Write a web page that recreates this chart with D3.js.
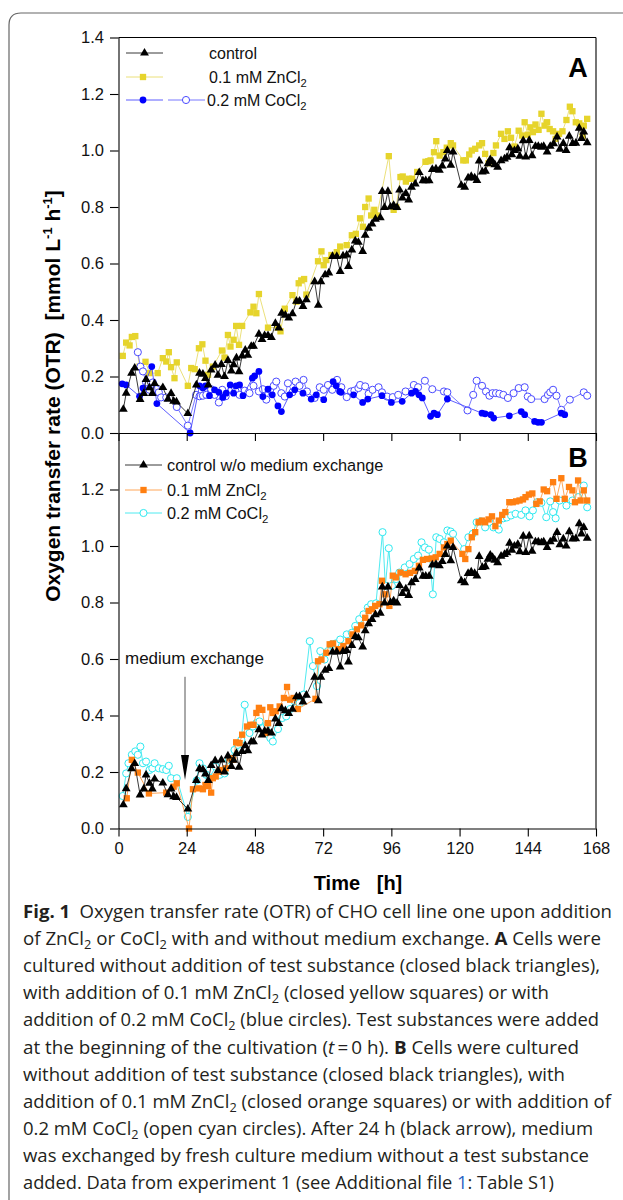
<!DOCTYPE html>
<html><head><meta charset="utf-8">
<script src="https://cdn.jsdelivr.net/npm/d3@7"></script>
<style>body{margin:0;background:#fff}svg{display:block}</style>
</head><body><svg id="c" width="623" height="1200"></svg>
<script>
// ---------- DATA ----------
const xTicks = [0, 24, 48, 72, 96, 120, 144, 168];
const yTicksA = [0, 0.2, 0.4, 0.6, 0.8, 1.0, 1.2, 1.4];
const yTicksB = [0, 0.2, 0.4, 0.6, 0.8, 1.0, 1.2];

// control (same culture shown in A and B)
const ctrlT = [1.7,2.7,4.6,5.7,7.6,8.9,9.7,10.9,11.9,12.7,15.6,17.4,18.5,19.4,20.4,24.4,27.4,28.5,29.7,30.6,31.6,32.6,34.0,35.0,36.2,37.3,38.5,39.7,40.5,41.5,42.4,43.5,44.6,45.5,46.7,47.5,49.4,50.5,51.4,52.6,53.8,55.2,56.4,57.4,58.7,59.9,61.2,62.6,63.7,64.9,66.1,69.0,70.3,71.2,72.7,74.0,75.3,76.8,78.0,79.0,80.3,80.9,82.1,83.3,84.4,85.9,86.8,88.0,89.2,90.4,92.1,92.8,93.6,94.8,95.7,96.8,98.0,98.9,99.9,101.1,102.1,103.1,104.4,105.8,107.1,108.1,109.3,110.4,111.7,112.9,113.9,115.0,115.7,116.9,117.7,120.6,121.8,123.0,124.1,125.3,126.1,126.9,128.0,129.1,130.0,130.8,131.6,132.4,133.4,134.6,135.8,136.7,137.6,138.4,139.3,140.5,141.2,142.4,143.3,144.5,145.5,146.7,147.7,148.8,149.6,150.8,151.9,153.1,154.3,155.3,156.5,157.5,158.6,159.8,160.9,162.1,162.9,163.7,164.9];
const ctrlV = [0.084,0.141,0.212,0.23,0.119,0.14,0.19,0.16,0.14,0.175,0.161,0.12,0.14,0.113,0.11,0.069,0.17,0.212,0.208,0.193,0.17,0.223,0.24,0.205,0.243,0.2,0.257,0.22,0.242,0.266,0.217,0.273,0.293,0.275,0.307,0.307,0.35,0.331,0.345,0.345,0.338,0.388,0.372,0.424,0.417,0.407,0.422,0.467,0.467,0.448,0.472,0.536,0.452,0.536,0.56,0.567,0.625,0.625,0.572,0.627,0.63,0.59,0.648,0.68,0.675,0.643,0.7,0.725,0.74,0.757,0.762,0.855,0.798,0.855,0.8,0.806,0.798,0.86,0.832,0.848,0.825,0.87,0.882,0.922,0.893,0.893,0.893,0.933,0.935,0.93,0.945,0.97,1.0,0.948,0.995,0.877,0.87,0.903,0.908,0.903,0.894,0.963,0.924,0.927,0.953,0.968,0.96,0.95,0.941,0.964,0.97,0.976,1.01,0.985,1.0,1.006,0.98,1.035,0.977,1.036,0.982,1.015,1.015,1.012,1.015,0.995,1.015,1.024,1.048,1.005,1.025,1.0,1.051,1.025,1.026,1.079,1.043,1.066,1.028];

// A: 0.1 mM ZnCl2 (yellow)
const znAT = [1.5,2.7,3.9,4.7,5.9,7.4,9.5,10.9,13.8,15.6,16.8,17.7,18.5,19.7,20.5,24.4,25.6,26.8,28.3,29.5,30.6,31.5,33.2,36.4,37.3,38.5,39.4,40.5,41.4,42.4,43.5,46.4,47.5,48.5,49.4,52.6,56.1,57.0,58.5,61.2,62.6,63.4,64.3,65.3,66.1,70.2,71.4,72.2,73.1,74.9,76.8,78.0,80.3,82.1,83.5,85.0,86.0,86.8,88.0,88.9,90.0,90.9,95.1,96.8,97.7,99.2,100.0,101.1,102.1,103.3,105.1,108.0,109.0,109.8,111.0,111.8,113.0,114.3,115.5,116.9,117.7,121.3,122.2,123.4,124.3,125.5,126.9,127.9,129.0,130.2,131.9,132.8,134.6,135.8,137.0,138.1,139.3,140.8,142.0,142.9,144.0,144.9,145.8,146.7,147.8,148.8,149.9,150.8,151.7,152.9,153.8,155.0,156.2,157.6,158.8,159.7,160.9,162.1,163.3,163.7,164.9];
const znAV = [0.273,0.32,0.31,0.34,0.343,0.235,0.252,0.212,0.212,0.265,0.253,0.286,0.233,0.194,0.25,0.167,0.23,0.226,0.3,0.314,0.256,0.206,0.235,0.292,0.267,0.347,0.306,0.33,0.379,0.312,0.379,0.427,0.447,0.424,0.492,0.373,0.373,0.36,0.44,0.488,0.465,0.53,0.54,0.545,0.49,0.608,0.643,0.594,0.612,0.63,0.64,0.66,0.665,0.7,0.705,0.76,0.73,0.8,0.83,0.77,0.79,0.77,0.98,0.79,0.8,0.906,0.908,0.89,0.9,0.9,0.924,0.96,0.962,0.965,0.994,1.033,0.982,0.994,1.01,1.026,1.018,0.965,0.965,0.986,1.0,1.006,1.018,1.026,0.988,0.955,0.991,1.018,1.059,1.041,1.068,1.045,1.014,1.07,1.053,1.1,1.056,1.082,1.065,1.092,1.073,1.13,1.088,1.1,1.076,1.068,1.041,1.059,1.068,1.108,1.155,1.139,1.1,1.096,1.05,1.088,1.112];

// A: 0.2 mM CoCl2 (closed blue)
const coAT = [1.3,2.7,7.4,8.6,11.7,13.5,25.2,28.5,29.7,30.6,32.0,33.8,35.3,36.7,37.9,39.3,40.5,41.4,42.6,43.8,47.1,47.9,49.4,50.8,52.6,54.1,56.1,57.3,60.2,62.0,64.9,67.8,69.6,72.2,75.5,76.6,77.8,78.3,82.7,85.9,87.7,92.7,96.0,99.8,103.1,104.5,105.7,106.9,109.8,111.0,112.2,115.7,127.9,129.0,131.0,132.0,137.5,141.7,142.9,146.4,147.6,148.8,155.8,157.0];
const coAV = [0.174,0.17,0.13,0.159,0.235,0.104,0.0,0.167,0.159,0.167,0.132,0.153,0.144,0.126,0.141,0.17,0.141,0.167,0.17,0.132,0.194,0.202,0.218,0.129,0.155,0.135,0.096,0.076,0.135,0.153,0.141,0.12,0.135,0.118,0.182,0.167,0.147,0.144,0.135,0.108,0.12,0.132,0.108,0.112,0.141,0.147,0.135,0.124,0.059,0.07,0.065,0.12,0.07,0.068,0.065,0.053,0.061,0.076,0.065,0.041,0.038,0.038,0.07,0.065];

// A: 0.2 mM CoCl2 (open blue)
const coOpenT = [6.8,7.7,8.6,9.7,10.9,12.1,13.3,14.2,15.0,16.8,20.5,24.4,27.3,28.5,29.7,30.9,32.6,33.8,35.3,36.5,37.7,39.7,41.2,42.6,44.4,46.1,47.5,49.4,50.8,52.0,53.4,54.6,55.5,57.3,58.5,59.6,61.2,62.3,63.7,65.1,66.3,69.0,70.8,72.2,73.7,75.2,76.9,78.4,80.3,81.8,83.0,84.4,85.0,86.8,88.0,89.4,91.5,92.7,94.5,96.5,98.4,101.0,103.9,105.4,107.8,110.4,114.5,115.7,122.8,124.8,126.0,127.9,129.3,130.5,131.6,132.8,134.0,135.4,137.0,139.0,140.8,142.9,144.0,145.2,149.9,151.1,151.9,152.9,154.1,155.8,158.8,163.7,164.9];
const coOpenV = [0.286,0.235,0.218,0.179,0.153,0.179,0.155,0.144,0.126,0.126,0.092,0.026,0.135,0.13,0.132,0.135,0.155,0.135,0.108,0.153,0.13,0.153,0.147,0.135,0.15,0.141,0.167,0.147,0.155,0.118,0.153,0.167,0.182,0.141,0.129,0.176,0.144,0.182,0.167,0.188,0.147,0.124,0.162,0.153,0.17,0.153,0.188,0.162,0.127,0.147,0.15,0.159,0.17,0.165,0.139,0.153,0.162,0.144,0.129,0.127,0.135,0.147,0.17,0.162,0.185,0.155,0.147,0.144,0.08,0.135,0.185,0.167,0.147,0.132,0.141,0.141,0.139,0.135,0.124,0.141,0.159,0.162,0.129,0.12,0.12,0.135,0.144,0.153,0.132,0.082,0.118,0.144,0.132];

// B: 0.1 mM ZnCl2 (orange)
const znBT = [2.9,4.7,6.8,10.7,16.8,19.4,20.5,24.8,26.2,28.3,29.7,30.6,31.5,32.6,33.2,34.2,35.3,36.5,37.7,39.1,40.3,41.4,42.6,43.5,45.2,46.4,47.5,48.5,49.4,50.6,51.8,52.6,53.4,54.3,55.3,56.7,58.2,59.3,60.4,61.6,63.1,69.3,70.2,71.4,73.1,74.3,75.5,77.2,79.1,80.9,82.3,83.9,85.4,86.8,88.0,89.2,90.3,91.8,92.7,93.9,95.3,96.5,97.7,99.2,101.0,102.6,104.3,105.7,107.1,108.6,110.2,111.6,113.0,114.5,115.7,116.9,121.0,122.0,123.1,124.3,125.5,126.7,127.9,129.0,130.2,131.4,132.6,133.8,135.0,136.1,137.5,138.7,139.9,141.1,142.3,143.2,144.4,145.6,147.0,148.2,149.6,150.8,152.9,154.1,155.8,157.0,158.5,159.7,160.6,161.7,162.6,163.7,164.9];
const znBV = [0.107,0.243,0.198,0.124,0.127,0.148,0.16,0.0,0.139,0.142,0.139,0.154,0.15,0.127,0.178,0.184,0.201,0.207,0.213,0.249,0.243,0.305,0.302,0.332,0.361,0.367,0.367,0.409,0.427,0.42,0.338,0.373,0.429,0.409,0.415,0.432,0.462,0.501,0.456,0.462,0.423,0.459,0.592,0.598,0.622,0.652,0.655,0.635,0.646,0.663,0.687,0.705,0.719,0.746,0.77,0.776,0.788,0.794,0.877,0.829,0.788,0.895,0.889,0.906,0.9,0.905,0.912,0.93,0.951,0.954,0.956,0.96,0.972,0.995,1.007,1.019,0.972,0.954,0.989,1.031,1.049,1.084,1.09,1.084,1.094,1.105,1.07,1.09,1.11,1.12,1.155,1.155,1.158,1.161,1.165,1.173,1.182,1.186,1.149,1.158,1.2,1.194,1.226,1.167,1.24,1.167,1.209,1.197,1.155,1.232,1.161,1.197,1.161];

// B: 0.2 mM CoCl2 (open cyan)
const coBT = [1.5,2.7,3.5,4.7,5.9,6.8,7.7,8.6,9.7,10.9,11.9,12.7,14.2,15.6,16.8,17.7,18.5,20.5,24.4,27.5,28.5,29.7,30.9,32.0,34.2,35.6,37.3,38.8,40.8,42.0,43.2,44.4,46.1,47.3,48.5,49.6,50.8,52.2,53.4,54.3,56.1,57.6,59.0,60.4,62.0,63.7,65.1,67.3,68.4,69.8,71.0,72.5,73.7,74.9,76.4,78.0,80.3,82.1,83.3,84.7,86.2,87.7,88.9,90.6,92.9,93.9,95.1,96.2,97.7,98.8,100.7,102.4,103.9,105.4,106.6,107.8,109.2,110.6,111.8,113.0,114.5,115.7,116.9,117.7,121.6,123.1,124.6,126.0,127.5,129.0,130.5,131.9,133.8,135.4,136.6,138.1,139.7,141.7,143.2,144.6,145.8,147.2,148.8,150.5,151.9,152.9,153.8,155.2,157.6,159.7,161.7,163.7,164.9];
const coBV = [0.115,0.195,0.231,0.261,0.273,0.261,0.29,0.231,0.237,0.207,0.213,0.231,0.213,0.21,0.207,0.222,0.178,0.178,0.041,0.17,0.231,0.213,0.19,0.18,0.219,0.19,0.195,0.243,0.278,0.296,0.314,0.438,0.338,0.361,0.373,0.379,0.355,0.367,0.32,0.308,0.352,0.391,0.397,0.423,0.45,0.444,0.474,0.663,0.575,0.504,0.628,0.598,0.628,0.652,0.655,0.669,0.687,0.693,0.717,0.741,0.758,0.782,0.794,0.797,1.049,0.859,0.992,0.859,0.883,0.906,0.924,0.936,0.954,0.966,1.013,0.995,0.987,0.829,1.031,1.025,1.013,1.055,1.051,1.043,0.989,1.031,1.043,1.084,1.087,1.066,1.084,1.066,1.058,1.098,1.101,1.108,1.114,1.11,1.126,1.105,1.126,1.155,1.153,1.102,1.158,1.12,1.098,1.161,1.143,1.161,1.173,1.214,1.137];

const legendA = ["control", "0.1 mM ZnCl", "0.2 mM CoCl"];
const legendB = ["control w/o medium exchange", "0.1 mM ZnCl", "0.2 mM CoCl"];

const caption = [
  [["b","Fig. 1"],["n","\u2002Oxygen transfer rate (OTR) of CHO cell line one upon addition"]],
  [["n","of ZnCl"],["s","2"],["n"," or CoCl"],["s","2"],["n"," with and without medium exchange. "],["b","A"],["n"," Cells were"]],
  [["n","cultured without addition of test substance (closed black triangles),"]],
  [["n","with addition of 0.1 mM ZnCl"],["s","2"],["n"," (closed yellow squares) or with"]],
  [["n","addition of 0.2 mM CoCl"],["s","2"],["n"," (blue circles). Test substances were added"]],
  [["n","at the beginning of the cultivation ("],["i","t"],["n","\u2009=\u20090 h). "],["b","B"],["n"," Cells were cultured"]],
  [["n","without addition of test substance (closed black triangles), with"]],
  [["n","addition of 0.1 mM ZnCl"],["s","2"],["n"," (closed orange squares) or with addition of"]],
  [["n","0.2 mM CoCl"],["s","2"],["n"," (open cyan circles). After 24 h (black arrow), medium"]],
  [["n","was exchanged by fresh culture medium without a test substance"]],
  [["n","added. Data from experiment 1 (see Additional file "],["l","1"],["n",": Table S1)"]]
];
const captionEnds = [612, 601, 600, 549, 599, 579, 565, 611, 593, 589, 554];

// ---------- DRAW ----------
const svg = d3.select('#c');
const FONT = '"Liberation Sans", Arial, sans-serif';
const x = d3.scaleLinear().domain([0, 168]).range([118.5, 596]);
const yA = d3.scaleLinear().domain([0, 1.4]).range([433, 37.5]);
const yB = d3.scaleLinear().domain([0, 1.4]).range([828.5, 433]);

// figure frame
svg.append('path').attr('d', 'M9,1200 V25 Q9,13 21,13 H623')
  .attr('fill', 'none').attr('stroke', '#666').attr('stroke-width', 1.2);

const sty = {
  ctrl: {line: '#222', sym: d3.symbolTriangle, size: 34, fill: '#000', stroke: 'none'},
  znA: {line: '#e9dd6c', sym: d3.symbolSquare, size: 40, fill: '#e6d42c', stroke: 'none'},
  coA: {line: '#4b4bff', sym: d3.symbolCircle, size: 36, fill: '#0000ff', stroke: 'none'},
  coO: {line: '#6a6aff', sym: d3.symbolCircle, size: 40, fill: '#fff', stroke: '#4a4aff'},
  znB: {line: '#ff9c45', sym: d3.symbolSquare, size: 40, fill: '#ff7f11', stroke: 'none'},
  coB: {line: '#3be8ee', sym: d3.symbolCircle, size: 40, fill: '#fff', stroke: '#2ee9f0'}
};

function series(y, tArr, vArr, s) {
  const pts = tArr.map((t, i) => [t, vArr[i]]);
  const g = svg.append('g');
  g.append('path').datum(pts)
    .attr('d', d3.line().x(d => x(d[0])).y(d => y(d[1])))
    .attr('fill', 'none').attr('stroke', s.line).attr('stroke-width', 0.9);
  g.selectAll(null).data(pts).join('path')
    .attr('transform', d => `translate(${x(d[0])},${y(d[1])})`)
    .attr('d', d3.symbol().type(s.sym).size(s.size))
    .attr('fill', s.fill).attr('stroke', s.stroke).attr('stroke-width', 1);
}

// panel A series
series(yA, znAT, znAV, sty.znA);
series(yA, coOpenT, coOpenV, sty.coO);
series(yA, coAT, coAV, sty.coA);
series(yA, ctrlT, ctrlV, sty.ctrl);
// panel B series
series(yB, coBT, coBV, sty.coB);
series(yB, znBT, znBV, sty.znB);
series(yB, ctrlT, ctrlV, sty.ctrl);

// axes
function styleAxis(g) {
  g.selectAll('path,line').attr('stroke', '#000').attr('stroke-width', 1.1);
  g.selectAll('text').attr('font-family', FONT).attr('font-size', 16.5).attr('fill', '#111');
}
svg.append('g').attr('transform', `translate(${x(0)},0)`)
  .call(d3.axisLeft(yA).tickValues(yTicksA).tickFormat(d3.format('.1f')).tickSize(8.5).tickSizeOuter(0).tickPadding(6))
  .call(styleAxis);
svg.append('g').attr('transform', `translate(${x(0)},0)`)
  .call(d3.axisLeft(yB).tickValues(yTicksB).tickFormat(d3.format('.1f')).tickSize(8.5).tickSizeOuter(0).tickPadding(6))
  .call(styleAxis);
svg.append('g').attr('transform', `translate(0,${yA(0)})`)
  .call(d3.axisBottom(x).tickValues(xTicks).tickFormat('').tickSize(8).tickSizeOuter(0))
  .call(styleAxis);
svg.append('g').attr('transform', `translate(0,${yB(0)})`)
  .call(d3.axisBottom(x).tickValues(xTicks).tickSize(8).tickSizeOuter(0).tickPadding(6))
  .call(styleAxis);
// top and right borders
svg.append('line').attr('x1', x(0)).attr('x2', x(168)).attr('y1', yA(1.4)).attr('y2', yA(1.4))
  .attr('stroke', '#000').attr('stroke-width', 1.1);
svg.append('line').attr('x1', x(168)).attr('x2', x(168)).attr('y1', yA(1.4)).attr('y2', yB(0))
  .attr('stroke', '#000').attr('stroke-width', 1.1);

// axis titles
const yt = svg.append('text').attr('transform', 'translate(60,396) rotate(-90)')
  .attr('text-anchor', 'middle').attr('font-family', FONT).attr('font-weight', 'bold')
  .attr('font-size', 21).attr('fill', '#000');
yt.append('tspan').text('Oxygen transfer rate (OTR)\u00a0\u00a0[mmol L');
yt.append('tspan').attr('dy', -8).attr('font-size', 13).text('-1');
yt.append('tspan').attr('dy', 8).text(' h');
yt.append('tspan').attr('dy', -8).attr('font-size', 13).text('-1');
yt.append('tspan').attr('dy', 8).text(']');

svg.append('text').attr('x', 358).attr('y', 890).attr('text-anchor', 'middle')
  .attr('font-family', FONT).attr('font-weight', 'bold').attr('font-size', 20)
  .attr('fill', '#000').text('Time\u00a0\u00a0\u00a0[h]');

// panel letters
svg.append('text').attr('x', 578).attr('y', 77).attr('text-anchor', 'middle')
  .attr('font-family', FONT).attr('font-weight', 'bold').attr('font-size', 27).text('A');
svg.append('text').attr('x', 578).attr('y', 467).attr('text-anchor', 'middle')
  .attr('font-family', FONT).attr('font-weight', 'bold').attr('font-size', 27).text('B');

// legends
function legendRow(x1, x2, mx, y, s) {
  svg.append('line').attr('x1', x1).attr('x2', x2).attr('y1', y).attr('y2', y)
    .attr('stroke', s.line).attr('stroke-width', 0.9);
  svg.append('path').attr('transform', `translate(${mx},${y})`)
    .attr('d', d3.symbol().type(s.sym).size(s.size))
    .attr('fill', s.fill).attr('stroke', s.stroke).attr('stroke-width', 1);
}
function legendText(tx, y, label, sub, fs) {
  const t = svg.append('text').attr('x', tx).attr('y', y + 5.5)
    .attr('font-family', FONT).attr('font-size', fs).attr('fill', '#111');
  t.append('tspan').text(label);
  if (sub) t.append('tspan').attr('dy', 4).attr('font-size', fs * 0.7).text('2');
}
legendRow(126, 163, 144.5, 53, sty.ctrl);
legendText(209, 53, legendA[0], false, 16);
legendRow(126, 163, 143, 77, sty.znA);
legendText(209, 77, legendA[1], true, 16);
legendRow(126, 163, 143, 100, sty.coA);
legendRow(168, 205, 186, 100, sty.coO);
legendText(207, 100, legendA[2], true, 16);

legendRow(125, 162, 143.5, 465, sty.ctrl);
legendText(167, 465, legendB[0], false, 16.3);
legendRow(125, 162, 143.5, 490, sty.znB);
legendText(167, 490, legendB[1], true, 16.3);
legendRow(125, 162, 143.5, 513, sty.coB);
legendText(167, 513, legendB[2], true, 16.3);

// medium exchange annotation
svg.append('text').attr('x', 125).attr('y', 664).attr('font-family', FONT)
  .attr('font-size', 17).attr('fill', '#111').text('medium exchange');
const ax = x(23.4);
svg.append('line').attr('x1', ax).attr('x2', ax).attr('y1', yB(0.537)).attr('y2', 760)
  .attr('stroke', '#555').attr('stroke-width', 1);
svg.append('path').attr('d', `M${ax - 4},755 L${ax + 4},755 L${ax},780 Z`).attr('fill', '#000');

// caption
const CF = '"Open Sans", "Noto Sans", sans-serif';
caption.forEach((segs, i) => {
  const base = 918 + i * 27.1;
  const t = svg.append('text').attr('x', 23).attr('y', base)
    .attr('font-family', CF).attr('font-size', 17.5).attr('fill', '#231f20')
    .attr('textLength', captionEnds[i] - 23).attr('lengthAdjust', 'spacingAndGlyphs');
  let shifted = 0;
  segs.forEach(([k, s]) => {
    const sp = t.append('tspan').text(s);
    if (k === 's') { sp.attr('dy', 4).attr('font-size', 12); shifted = 4; }
    else { if (shifted) { sp.attr('dy', -shifted); shifted = 0; } }
    if (k === 'b') sp.attr('font-weight', 'bold');
    if (k === 'i') sp.attr('font-style', 'italic');
    if (k === 'l') sp.attr('fill', '#2b62c4');
  });
});
</script></body></html>
